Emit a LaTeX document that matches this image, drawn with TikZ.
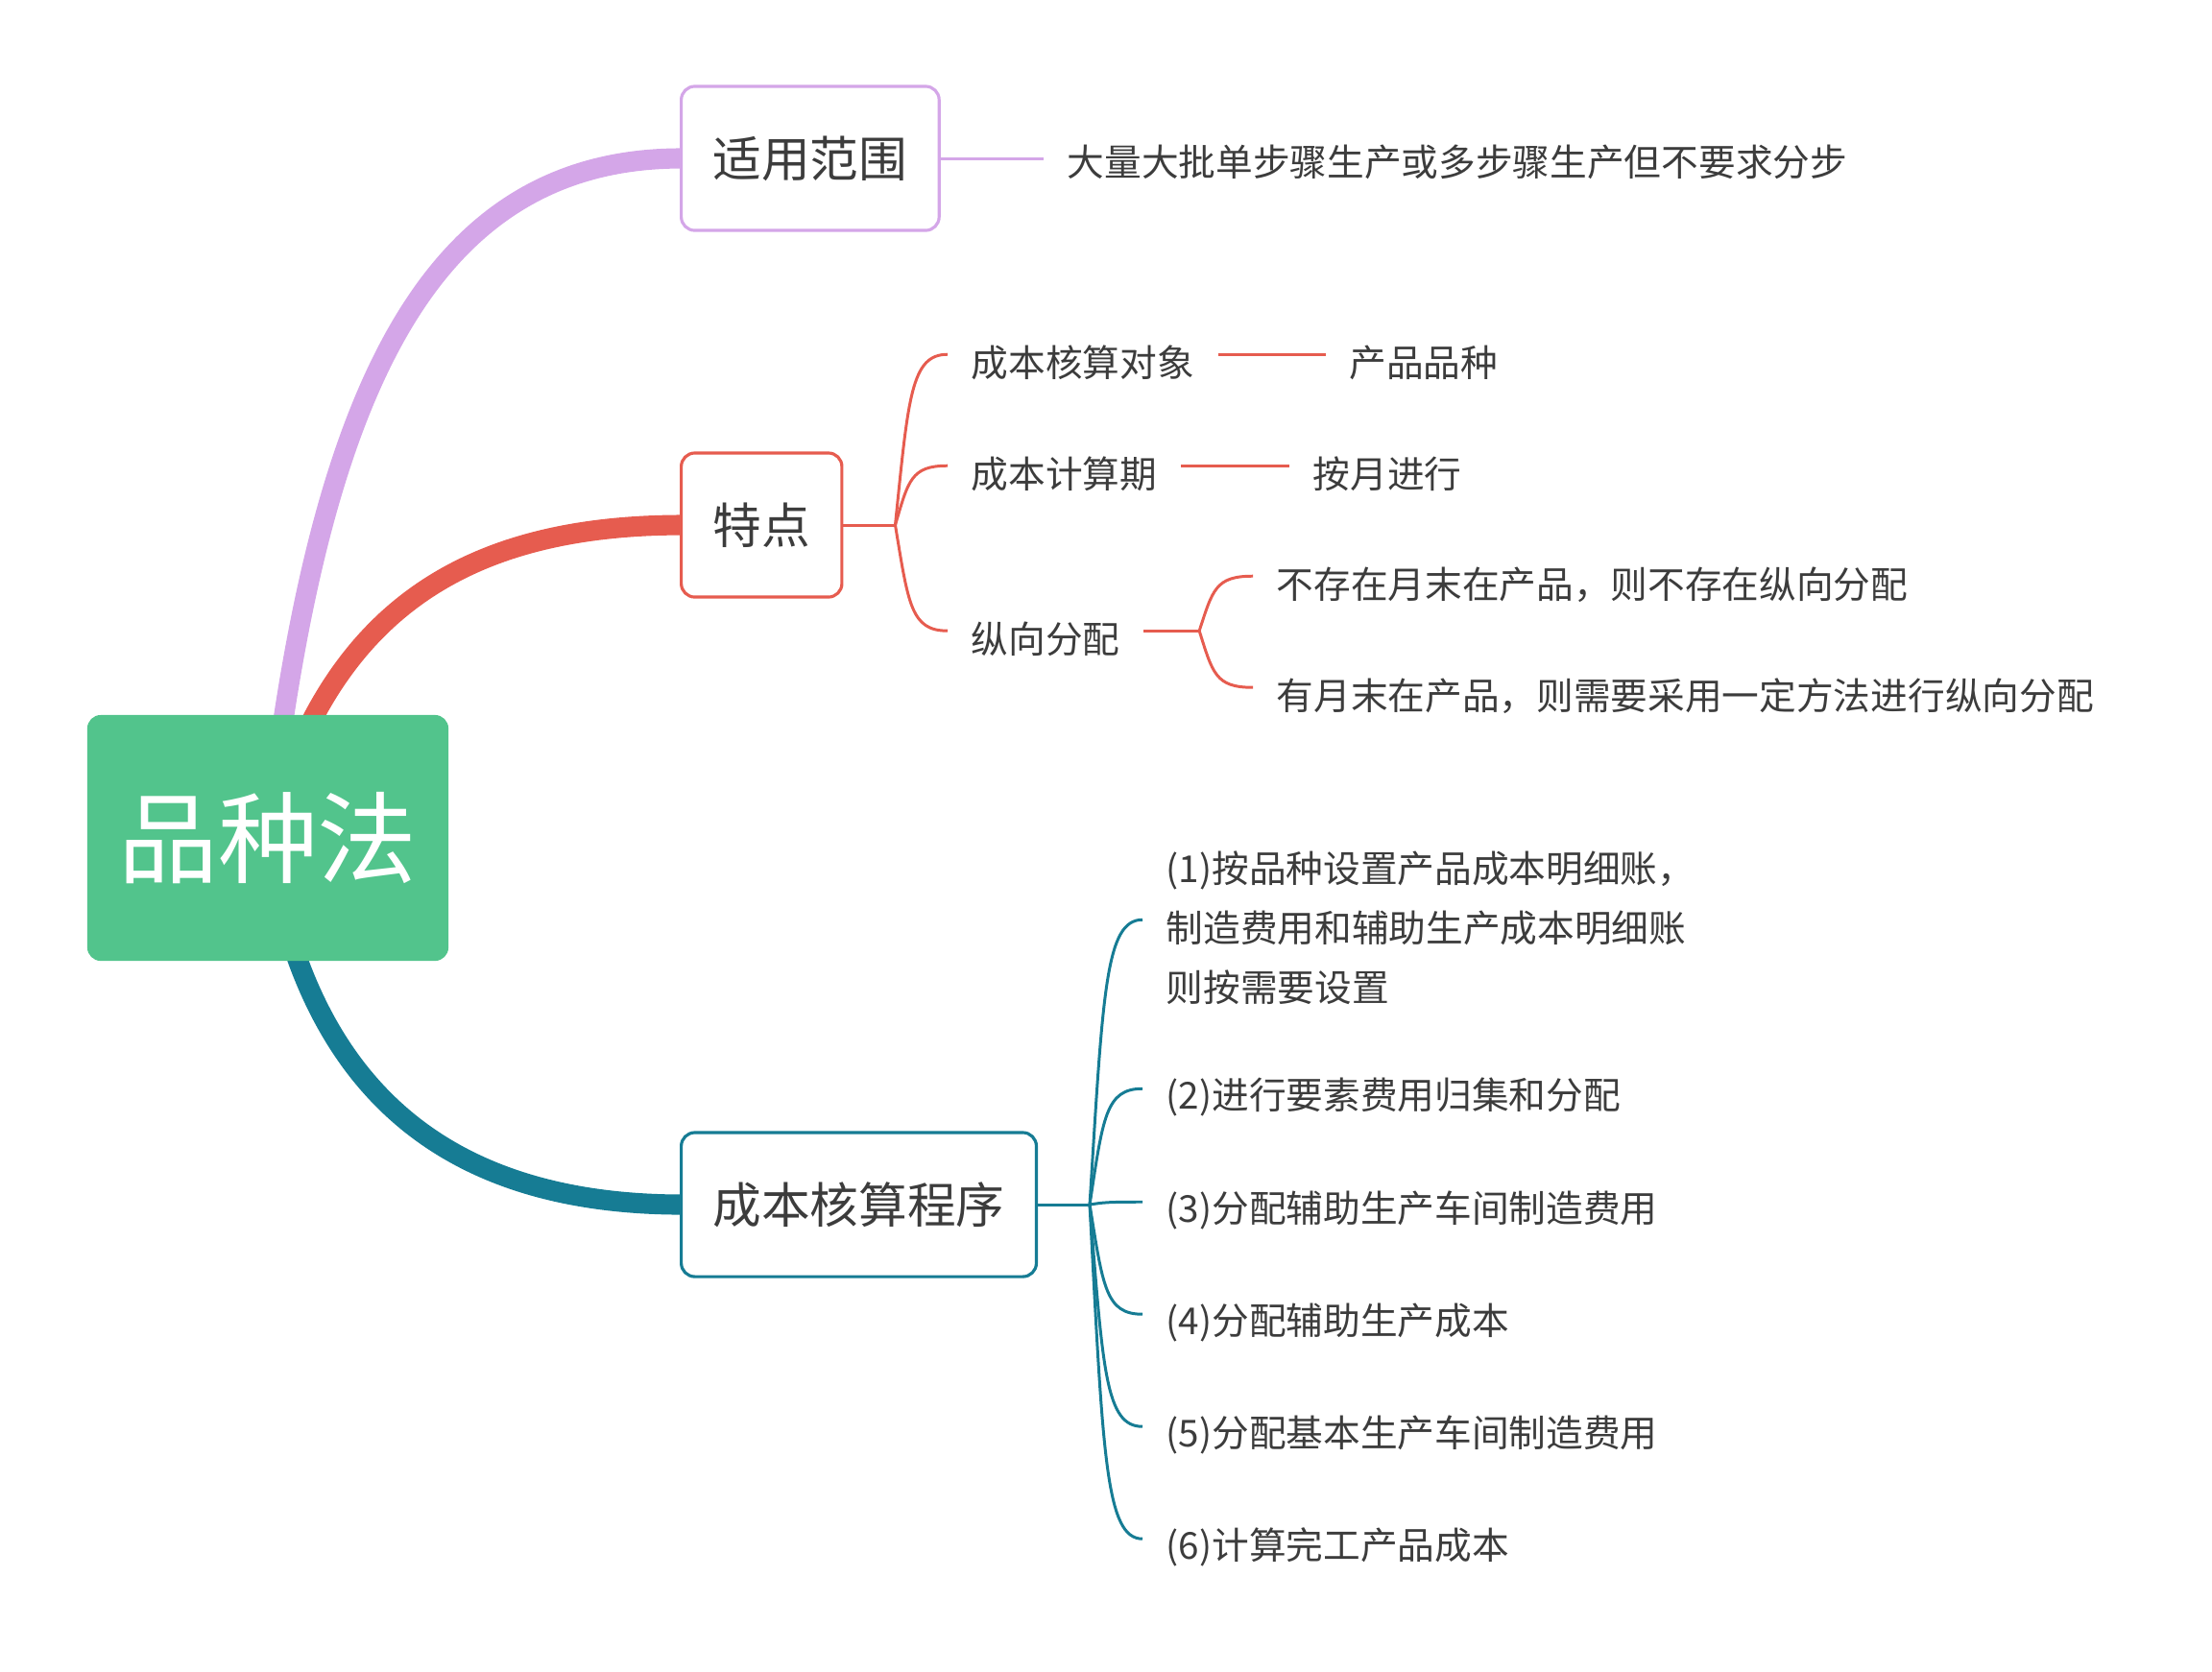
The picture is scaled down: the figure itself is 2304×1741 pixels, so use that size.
\documentclass[tikz,border=0pt]{standalone}
\usepackage{fontspec}
\newfontfamily\cjk{Noto Sans CJK SC}
\usepackage{tikz}
\usetikzlibrary{positioning,calc,backgrounds}

\definecolor{rootgreen}{HTML}{52C48C}
\definecolor{lilac}{HTML}{D4A6E8}
\definecolor{coral}{HTML}{E65C4F}
\definecolor{petrol}{HTML}{167C94}
\definecolor{ink}{HTML}{3C3C3C}

\begin{document}
\begin{tikzpicture}[
  x=0.01cm, y=0.01cm,
  root/.style={fill=rootgreen, rounded corners=4pt, minimum width=3.76cm, minimum height=2.56cm, text=white, font=\cjk\fontsize{29.5}{34}\selectfont},
  topic/.style={draw, fill=white, line width=0.9pt, rounded corners=4pt, anchor=west, minimum height=1.5cm, inner xsep=0.33cm, text=ink, font=\cjk\fontsize{14.4}{17}\selectfont},
  leaf/.style={anchor=west, inner xsep=0.24cm, inner ysep=2pt, align=left, text=ink, font=\cjk\fontsize{11}{17.6}\selectfont},
  main/.style={line width=6pt},
  twig/.style={line width=0.85pt},
  forkline/.style={to path={let \p1=(\tikztostart), \p2=(\tikztotarget) in
    .. controls ({\x1+0.25*(\x2-\x1)},{\y1+0.75*(\y2-\y1)}) and ({\x1+0.3*(\x2-\x1)},\y2) .. (\tikztotarget)}}
]
\useasboundingbox (0,0) rectangle (2304,-1741);

% centre and main topics
\node[root] (pzf) at (279,-873) {\raisebox{-3pt}{品种法}};
\node[topic, draw=lilac] (fw) at (708,-165) {\raisebox{-1pt}{适用范围}};
\node[topic, draw=coral] (td) at (708,-547) {\raisebox{-1pt}{特点}};
\node[topic, draw=petrol] (cx) at (708,-1255) {\raisebox{-1pt}{成本核算程序}};

\begin{scope}[on background layer]
\draw[main, lilac] (pzf.center) .. controls (330,-420) and (440,-166) .. (fw.west);
\draw[main, coral] (pzf.center) .. controls (340,-640) and (480,-548) .. (td.west);
\draw[main, petrol] (pzf.center) .. controls (320,-1150) and (480,-1254) .. (cx.west);
\end{scope}

% scope of use
\node[leaf] (fw1) at (1087,-169) {大量大批单步骤生产或多步骤生产但不要求分步};
\draw[twig, lilac] (fw.east) -- (fw.east -| fw1.west);

% features
\node[leaf] (td1) at (987,-378) {成本核算对象};
\node[leaf] (td2) at (987,-494) {成本计算期};
\node[leaf] (td3) at (987,-666) {纵向分配};
\node[leaf, right=1.12cm of td1] (td1a) {产品品种};
\node[leaf, right=1.13cm of td2] (td2a) {按月进行};
\node[leaf] (td3a) at (1305,-609) {不存在月末在产品，则不存在纵向分配};
\node[leaf] (td3b) at (1305,-725) {有月末在产品，则需要采用一定方法进行纵向分配};

\draw[twig, coral] (td.east) -- ++(54,0) coordinate (f2);
\draw[twig, coral] (f2) to[forkline] ([yshift=2.5pt]td1.west);
\draw[twig, coral] (f2) to[forkline] ([yshift=2.5pt]td2.west);
\draw[twig, coral] (f2) to[forkline] ([yshift=2.5pt]td3.west);
\draw[twig, coral] ([yshift=2.5pt]td1.east) -- ([yshift=2.5pt]td1a.west);
\draw[twig, coral] ([yshift=2.5pt]td2.east) -- ([yshift=2.5pt]td2a.west);
\draw[twig, coral] ([yshift=2.5pt]td3.east) -- ++(58,0) coordinate (f4);
\draw[twig, coral] (f4) to[forkline] ([yshift=2.5pt]td3a.west);
\draw[twig, coral] (f4) to[forkline] ([yshift=2.5pt]td3b.west);

% accounting procedure
\node[leaf] (cx1) at (1190,-967) {(1)按品种设置产品成本明细账，\\制造费用和辅助生产成本明细账\\则按需要设置};
\node[leaf] (cx2) at (1190,-1143) {(2)进行要素费用归集和分配};
\node[leaf] (cx3) at (1190,-1261) {(3)分配辅助生产车间制造费用};
\node[leaf] (cx4) at (1190,-1378) {(4)分配辅助生产成本};
\node[leaf] (cx5) at (1190,-1495) {(5)分配基本生产车间制造费用};
\node[leaf] (cx6) at (1190,-1612) {(6)计算完工产品成本};

\draw[twig, petrol] (cx.east) -- ++(54,0) coordinate (f3);
\draw[twig, petrol] (f3) to[forkline] ([yshift=2.5pt]cx1.west);
\draw[twig, petrol] (f3) to[forkline] ([yshift=2.5pt]cx2.west);
\draw[twig, petrol] (f3) to[forkline] ([yshift=2.5pt]cx3.west);
\draw[twig, petrol] (f3) to[forkline] ([yshift=2.5pt]cx4.west);
\draw[twig, petrol] (f3) to[forkline] ([yshift=2.5pt]cx5.west);
\draw[twig, petrol] (f3) to[forkline] ([yshift=2.5pt]cx6.west);
\end{tikzpicture}
\end{document}
